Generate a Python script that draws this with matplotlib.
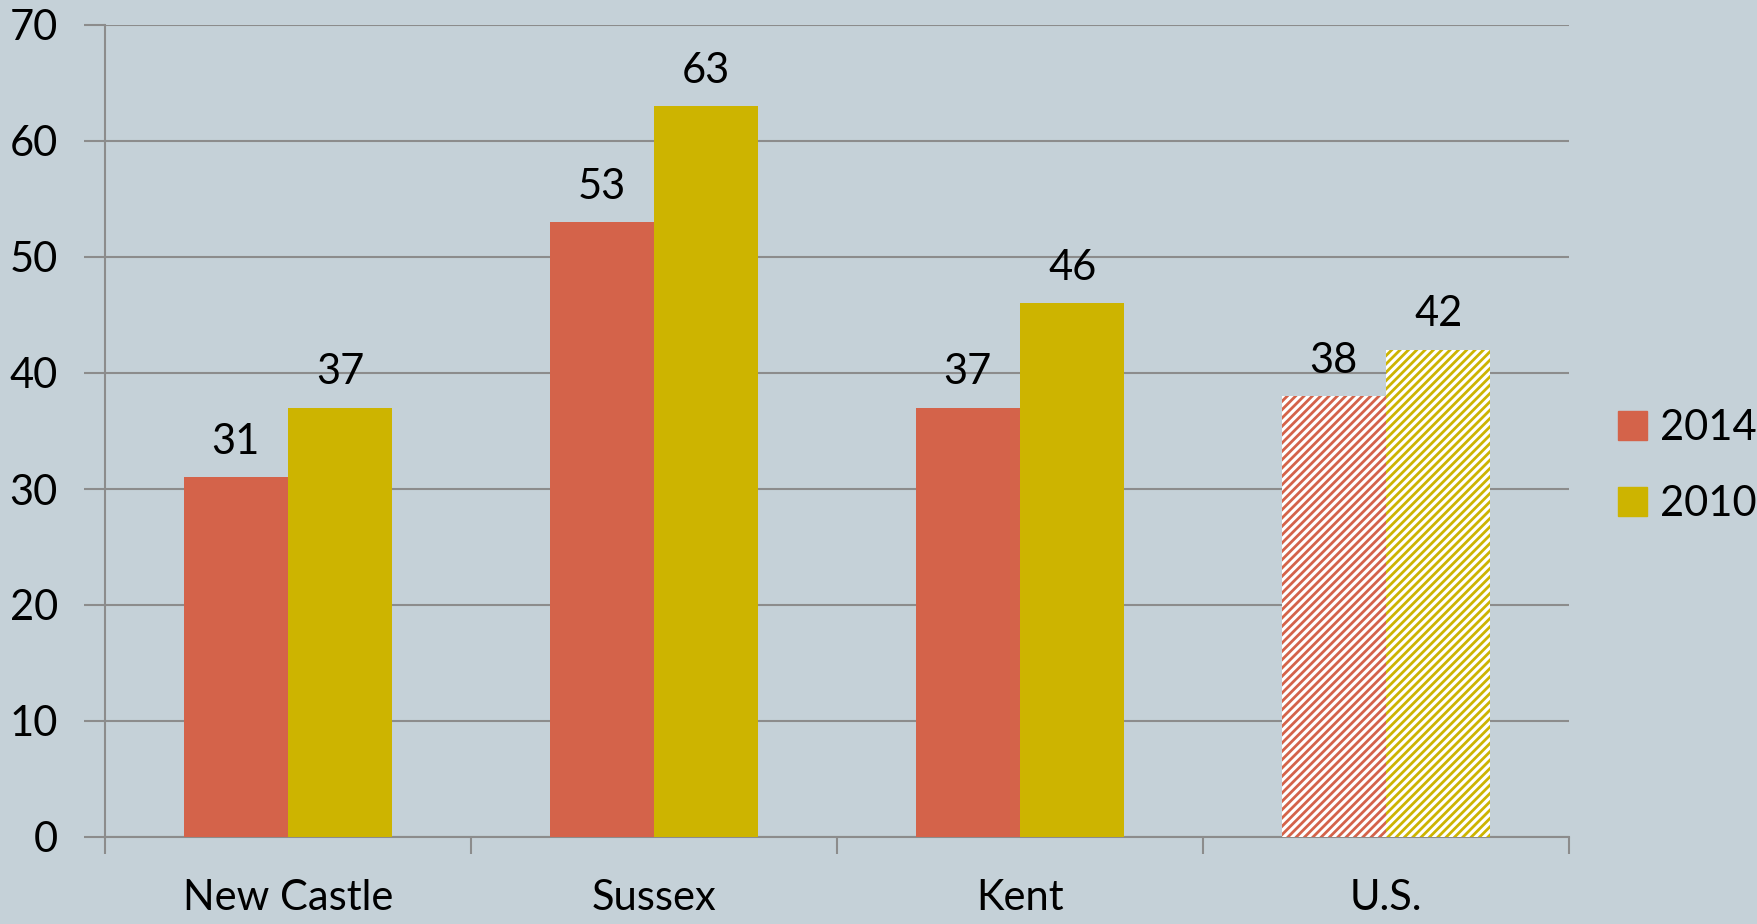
import numpy as np
import matplotlib
matplotlib.use("Agg")
import matplotlib.pyplot as plt

# chart values
categories = ["New Castle", "Sussex", "Kent", "U.S."]
series_names = ["2014", "2010"]
values_2014 = [31, 53, 37, 38]
values_2010 = [37, 63, 46, 42]
y_ticks = [0, 10, 20, 30, 40, 50, 60, 70]

bg = "#C5D1D8"
red = "#D4634A"
yellow = "#CDB400"
grid_c = "#8C8C8C"
fs = 30

plt.rcParams['font.family'] = ['Lato', 'DejaVu Sans']
plt.rcParams['hatch.linewidth'] = 2.0

fig = plt.figure(figsize=(17.58, 9.24), dpi=100, facecolor=bg)
ax = fig.add_axes([105 / 1758, 1 - 837 / 924, (1569 - 105) / 1758, (837 - 25) / 924])
ax.set_facecolor(bg)

x = np.arange(len(categories))
w = 0.285
b1 = ax.bar(x - w / 2, values_2014, w, color=red, label=series_names[0], zorder=3)
b2 = ax.bar(x + w / 2, values_2010, w, color=yellow, label=series_names[1], zorder=3)

# U.S. bars are hatched
for bars, c in [(b1, red), (b2, yellow)]:
    p = bars[-1]
    p.set_facecolor("white")
    p.set_edgecolor(c)
    p.set_hatch("////")
    p.set_linewidth(0)

for bars, vals in [(b1, values_2014), (b2, values_2010)]:
    for p, v in zip(bars, vals):
        ax.annotate(str(v), (p.get_x() + p.get_width() / 2, v), xytext=(0, 12),
                    textcoords="offset points", ha="center", va="bottom", fontsize=fs)

ax.set_xlim(-0.5, len(categories) - 0.5)
ax.set_ylim(0, 70)
ax.set_yticks(y_ticks)
ax.yaxis.grid(True, color=grid_c, linewidth=1.5, zorder=0)
ax.set_axisbelow(True)

ax.set_xticks(np.arange(len(categories) + 1) - 0.5)
ax.set_xticklabels([])
ax.set_xticks(x, minor=True)
ax.set_xticklabels(categories, minor=True)
ax.tick_params(axis="x", which="major", length=12, width=1.5, color=grid_c, direction="out")
ax.tick_params(axis="x", which="minor", length=0, labelsize=fs, pad=30)
ax.tick_params(axis="y", length=15, width=1.5, color=grid_c, labelsize=fs, pad=19)

for s in ["top", "right"]:
    ax.spines[s].set_visible(False)
for s in ["left", "bottom"]:
    ax.spines[s].set_color(grid_c)
    ax.spines[s].set_linewidth(1.5)

handles = [plt.Rectangle((0, 0), 1, 1, color=red), plt.Rectangle((0, 0), 1, 1, color=yellow)]
fig.legend(handles, series_names, loc="center left", bbox_to_anchor=(1618 / 1758, 1 - 466 / 924),
           frameon=False, fontsize=fs, handlelength=0.7, handleheight=0.7,
           handletextpad=0.3, labelspacing=0.9, borderpad=0, borderaxespad=0)

fig.savefig("out.png", dpi=100, facecolor=bg)
